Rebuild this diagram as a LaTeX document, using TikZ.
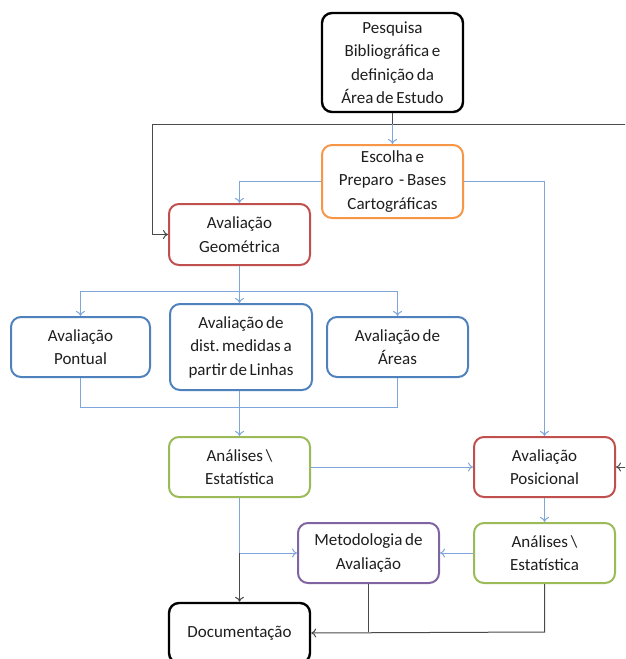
\documentclass[tikz,border=0pt]{standalone}
\usepackage{fontspec}
\setmainfont{Carlito}
\usetikzlibrary{arrows.meta}
\definecolor{cblack}{HTML}{000000}
\definecolor{corange}{HTML}{F79646}
\definecolor{cred}{HTML}{C0504D}
\definecolor{cblue}{HTML}{4F81BD}
\definecolor{cgreen}{HTML}{9BBB59}
\definecolor{cpurple}{HTML}{8064A2}
\definecolor{lblue}{HTML}{7EA6DA}
\definecolor{lgray}{HTML}{4A4A4A}
\definecolor{tcol}{HTML}{1E1E1E}
\newcommand{\boxfont}{\fontsize{17}{23.5}\selectfont}
\newcommand{\tightspace}{\frenchspacing\spaceskip=2.7pt\relax}
\tikzset{
  x=1pt, y=-1pt,
  box/.style={draw, rounded corners=10pt, line width=2pt, fill=white, align=center,
    text width=130pt, minimum width=141pt, inner sep=0pt, text=tcol,
    font=\boxfont, execute at begin node=\tightspace},
  blk/.style={box, draw=cblack, line width=2.4pt},
  org/.style={box, draw=corange},
  redb/.style={box, draw=cred},
  blu/.style={box, draw=cblue},
  grn/.style={box, draw=cgreen},
  pur/.style={box, draw=cpurple},
  bl/.style={draw=lblue, line width=1pt},
  gl/.style={draw=lgray, line width=1pt},
  tip/.style={-{To[length=5pt,width=9pt]}},
}
\begin{document}
\begin{tikzpicture}
\useasboundingbox (0,0) rectangle (625,659);
\clip (0,0) rectangle (625,659);
\node[blk, minimum height=99pt] (pesq) at (392.5,62.5) {Pesquisa\\Bibliográfica e\\definição da\\Área de Estudo};
\node[org, minimum height=73pt] (esc) at (392.5,181.5) {Escolha e\\Preparo\hspace{3pt} - Bases\\Cartográficas};
\node[redb, minimum height=61pt] (geo) at (239.5,234.5) {Avaliação\\Geométrica};
\node[blu, minimum width=139pt, minimum height=60pt] (pont) at (80.5,347) {Avaliação\\Pontual};
\node[blu, minimum width=142pt, minimum height=86pt] (lin) at (241,347) {Avaliação de\\dist. medidas a\\partir de Linhas};
\node[blu, minimum width=141pt, minimum height=60pt] (area) at (397.5,347) {Avaliação de\\Áreas};
\node[grn, minimum height=60pt] (an1) at (239.5,467) {Análises \textbackslash\\Estatística};
\node[redb, minimum height=60pt] (pos) at (544.5,467) {Avaliação\\Posicional};
\node[grn, minimum height=60pt] (an2) at (544.5,553) {Análises \textbackslash\\Estatística};
\node[pur, minimum height=60pt] (met) at (368.5,553) {Metodologia de\\Avaliação};
\node[blk, minimum height=60pt] (doc) at (239.5,633) {Documentação};

\coordinate (t1) at (392.5,124);
\coordinate (g1) at (152,124);
\coordinate (g2) at (152,234.5);
\coordinate (r1) at (640,124);
\coordinate (r2) at (640,467);
\coordinate (h1) at (80.5,291);
\coordinate (h2) at (397.5,291);
\coordinate (b1) at (80.5,407);
\coordinate (b2) at (397.5,407);
\coordinate (m1) at (239.5,553);
\coordinate (d1) at (368.5,632);
\coordinate (d2) at (544.5,632);

% top connections
\draw[gl] (pesq.south) -- (t1);
\draw[gl] (g1) -- (r1);
\draw[gl, tip] (g1) -- (g2) -- (geo.west);
\draw[gl, tip] (r1) -- (r2) -- (pos.east);
\draw[bl, tip] (t1) -- (esc.north);
\draw[bl, tip] (esc.west) -| (geo.north);
\draw[bl, tip] (esc.east) -| (pos.north);

% geometric branch
\draw[bl, tip] (geo.south) -- (lin.north -| geo.south);
\draw[bl, tip] (h1) -- (pont.north);
\draw[bl] (h1) -- (h2);
\draw[bl, tip] (h2) -- (area.north);
\draw[bl] (pont.south) -- (b1) -- (b2) -- (area.south);
\draw[bl, tip] (lin.south -| an1.north) -- (an1.north);

% lower part
\draw[bl, tip] (an1.east) -- (pos.west);
\draw[bl, tip] (pos.south) -- (an2.north);
\draw[bl, tip] (an2.west) -- (met.east);
\draw[bl] (an1.south) -- (m1);
\draw[bl, tip] (m1) -- (met.west);
\draw[gl, tip] (m1) -- (doc.north);
\draw[gl] (met.south) -- (d1);
\draw[gl, tip] (an2.south) -- (d2) -- (doc.east);
\end{tikzpicture}
\end{document}
